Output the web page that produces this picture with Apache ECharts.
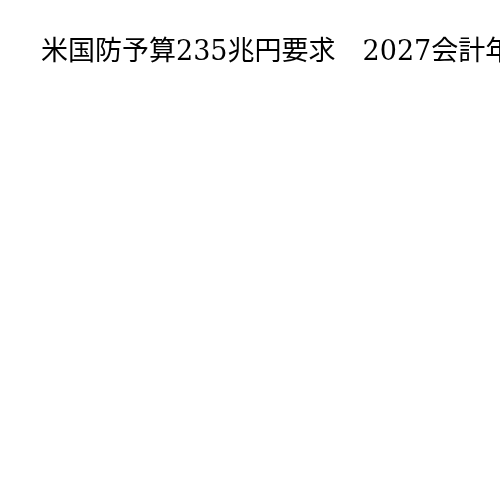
<!DOCTYPE html>
<html>
<head>
<meta charset="utf-8">
<script src="https://cdn.jsdelivr.net/npm/echarts@6/dist/echarts.min.js"></script>
<style>html,body{margin:0;padding:0;background:#fff;}#main{width:500px;height:500px;}</style>
</head>
<body>
<div id="main"></div>
<script>
const titleText = '米国防予算235兆円要求　2027会計年度';
const categories = [];
const values = [];
const chart = echarts.init(document.getElementById('main'));
chart.setOption({
  backgroundColor: '#ffffff',
  title: {
    text: titleText,
    left: 36,
    top: 34,
    textStyle: { fontFamily: "'DejaVu Serif', 'Noto Sans CJK JP', serif", fontSize: 27, fontWeight: 'normal', color: '#000' }
  },
  series: []
});
</script>
</body>
</html>
